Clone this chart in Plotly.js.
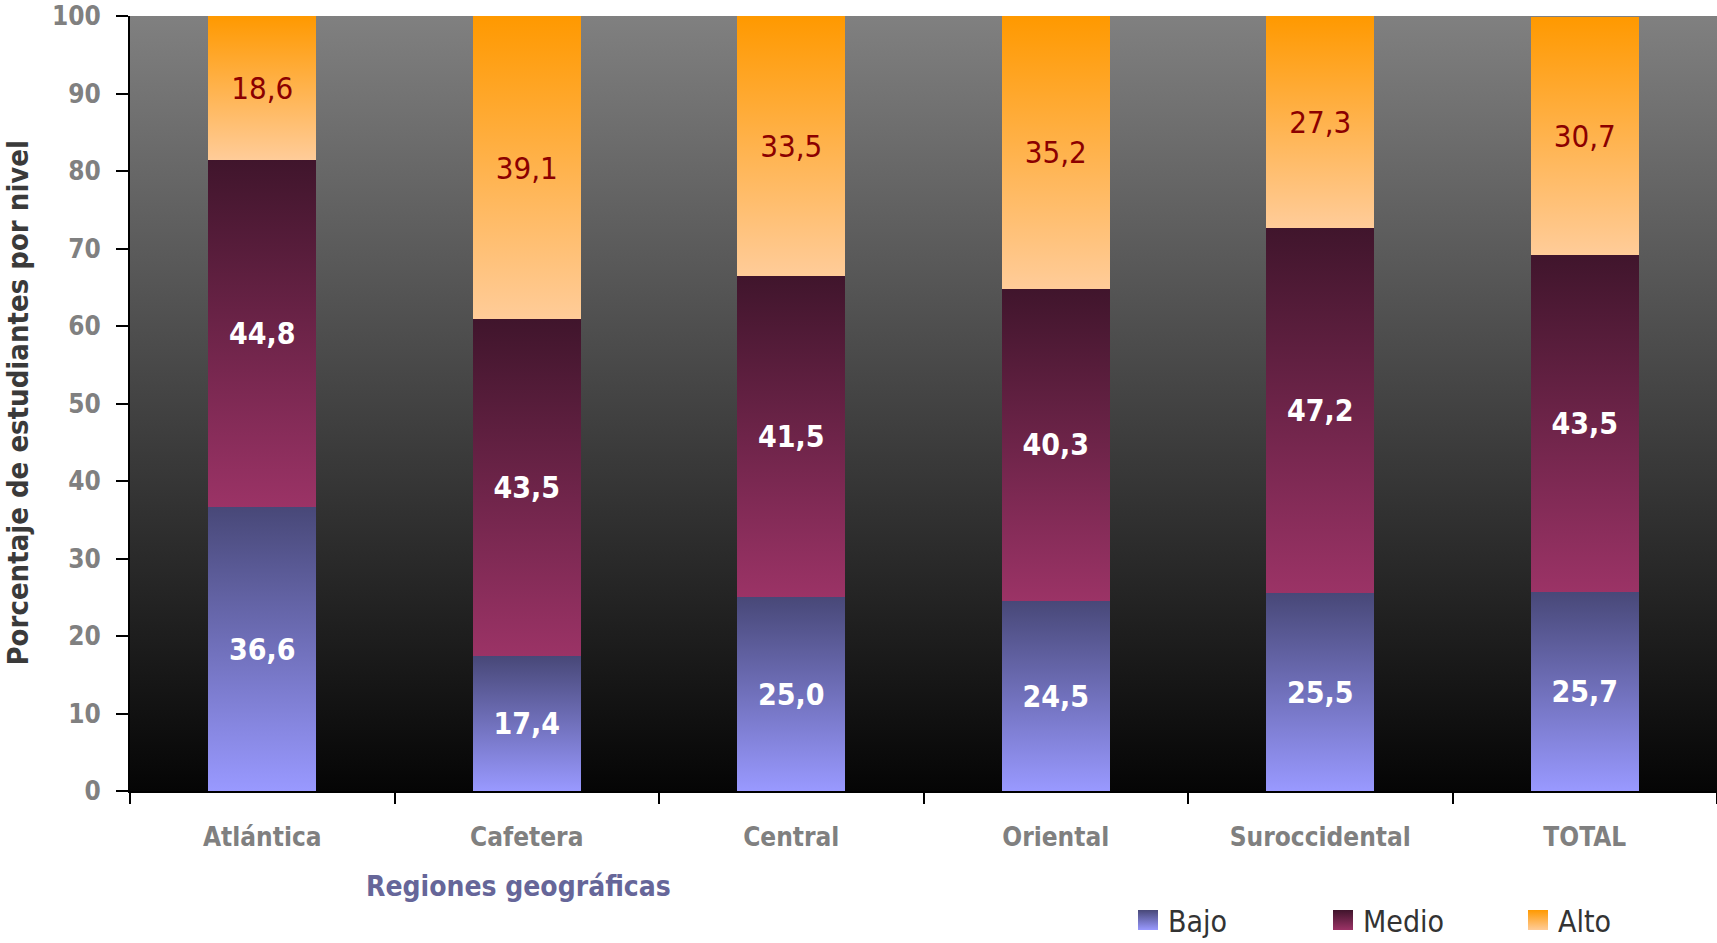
<!DOCTYPE html>
<html>
<head>
<meta charset="utf-8">
<script src="https://cdn.plot.ly/plotly-3.0.1.min.js"></script>
<style>
html,body{margin:0;padding:0;background:#fff;}
#chart{width:1717px;height:943px;}
</style>
</head>
<body>
<div id="chart"></div>
<script>
const regiones = ["Atlántica", "Cafetera", "Central", "Oriental", "Suroccidental", "TOTAL"];
const bajo  = [36.6, 17.4, 25.0, 24.5, 25.5, 25.7];
const medio = [44.8, 43.5, 41.5, 40.3, 47.2, 43.5];
const alto  = [18.6, 39.1, 33.5, 35.2, 27.3, 30.7];
const nombres = ["Bajo", "Medio", "Alto"];

const FONT = "DejaVu Sans Condensed, DejaVu Sans, sans-serif";
const fmt = v => v.toFixed(1).replace('.', ',');

function barTrace(name, vals, color, txtColor, weight, size) {
  return {
    type: 'bar', name: name, x: regiones, y: vals,
    text: vals.map(fmt), textposition: 'inside', insidetextanchor: 'middle',
    constraintext: 'none', textangle: 0,
    textfont: {family: FONT, size: size, color: txtColor, weight: weight},
    insidetextfont: {family: FONT, size: size, color: txtColor, weight: weight},
    marker: {color: color, line: {width: 0}},
    hoverinfo: 'skip'
  };
}

const data = [
  barTrace(nombres[0], bajo, '#7373c8', '#ffffff', 'bold', 30),
  barTrace(nombres[1], medio, '#702448', '#ffffff', 'bold', 30),
  barTrace(nombres[2], alto, '#ffb060', '#8b0000', 'normal', 31)
];

const W = 1717, H = 943, ML = 130, MR = 0, MT = 16, MB = 152;
const PW = W - ML - MR, PH = H - MT - MB;

const layout = {
  width: W, height: H,
  margin: {l: ML, r: MR, t: MT, b: MB, pad: 0, autoexpand: false},
  paper_bgcolor: '#ffffff', plot_bgcolor: '#404040',
  barmode: 'stack', bargap: 0.592,
  font: {family: FONT},
  showlegend: true,
  legend: {
    orientation: 'h', x: (1128 - ML) / PW, xanchor: 'left',
    y: (MT + PH - 920) / PH, yanchor: 'middle',
    font: {family: FONT, size: 30, color: '#333333'},
    entrywidth: 150, traceorder: 'normal',
    bgcolor: 'rgba(0,0,0,0)', itemclick: false
  },
  xaxis: {
    type: 'category', showgrid: false, zeroline: false,
    showline: true, linecolor: '#000000', linewidth: 2,
    ticks: 'outside', tickson: 'boundaries', ticklen: 11, tickwidth: 2, tickcolor: '#000000',
    tickfont: {family: FONT, size: 26, color: '#808080', weight: 'bold'},
    ticklabelstandoff: 22,
    fixedrange: true
  },
  yaxis: {
    range: [0, 100], dtick: 10, tick0: 0, showgrid: false, zeroline: false,
    showline: true, linecolor: '#000000', linewidth: 2,
    ticks: 'outside', ticklen: 12, tickwidth: 2, tickcolor: '#000000',
    tickfont: {family: FONT, size: 26, color: '#808080', weight: 'bold'},
    ticklabelstandoff: 10,
    fixedrange: true
  },
  annotations: [
    {
      text: 'Porcentaje de estudiantes por nivel', textangle: -90,
      xref: 'paper', yref: 'paper', x: (17 - ML) / PW, y: 0.5,
      xanchor: 'center', yanchor: 'middle', showarrow: false,
      font: {family: FONT, size: 29, color: '#3a3a3a', weight: 'bold'}
    },
    {
      text: 'Regiones geográficas',
      xref: 'paper', yref: 'paper', x: (518 - ML) / PW, y: (MT + PH - 887) / PH,
      xanchor: 'center', yanchor: 'middle', showarrow: false,
      font: {family: FONT, size: 28, color: '#666699', weight: 'bold'}
    }
  ]
};

const grads = [
  {id: 'gBajo', top: '#484878', bottom: '#9999ff'},
  {id: 'gMedio', top: '#40152c', bottom: '#9b3366'},
  {id: 'gAlto', top: '#ff9900', bottom: '#ffcc99'},
  {id: 'gBg', top: '#808080', bottom: '#050505'}
];

Plotly.newPlot('chart', data, layout, {staticPlot: true, displayModeBar: false}).then(gd => {
  const svg = gd.querySelector('svg.main-svg');
  const NS = 'http://www.w3.org/2000/svg';
  let defs = svg.querySelector('defs');
  if (!defs) { defs = document.createElementNS(NS, 'defs'); svg.insertBefore(defs, svg.firstChild); }
  grads.forEach(g => {
    const lg = document.createElementNS(NS, 'linearGradient');
    lg.setAttribute('id', g.id);
    lg.setAttribute('x1', '0'); lg.setAttribute('y1', '0');
    lg.setAttribute('x2', '0'); lg.setAttribute('y2', '1');
    const s1 = document.createElementNS(NS, 'stop');
    s1.setAttribute('offset', '0'); s1.setAttribute('stop-color', g.top);
    const s2 = document.createElementNS(NS, 'stop');
    s2.setAttribute('offset', '1'); s2.setAttribute('stop-color', g.bottom);
    lg.appendChild(s1); lg.appendChild(s2); defs.appendChild(lg);
  });
  const ids = ['gBajo', 'gMedio', 'gAlto'];
  gd.querySelectorAll('.barlayer .trace.bars').forEach((tr, i) => {
    tr.querySelectorAll('.point path').forEach(p => { p.style.fill = 'url(#' + ids[i] + ')'; });
  });
  gd.querySelectorAll('.legend .traces').forEach((tr, i) => {
    tr.querySelectorAll('.legendpoints path').forEach(p => {
      p.setAttribute('d', 'M10,10H-10V-10H10Z');
      p.style.fill = 'url(#' + ids[i] + ')';
      p.style.stroke = 'none';
    });
  });
  const bg = gd.querySelector('.bglayer rect.bg') || gd.querySelector('rect.bg');
  if (bg) bg.style.fill = 'url(#gBg)';
});
</script>
</body>
</html>
